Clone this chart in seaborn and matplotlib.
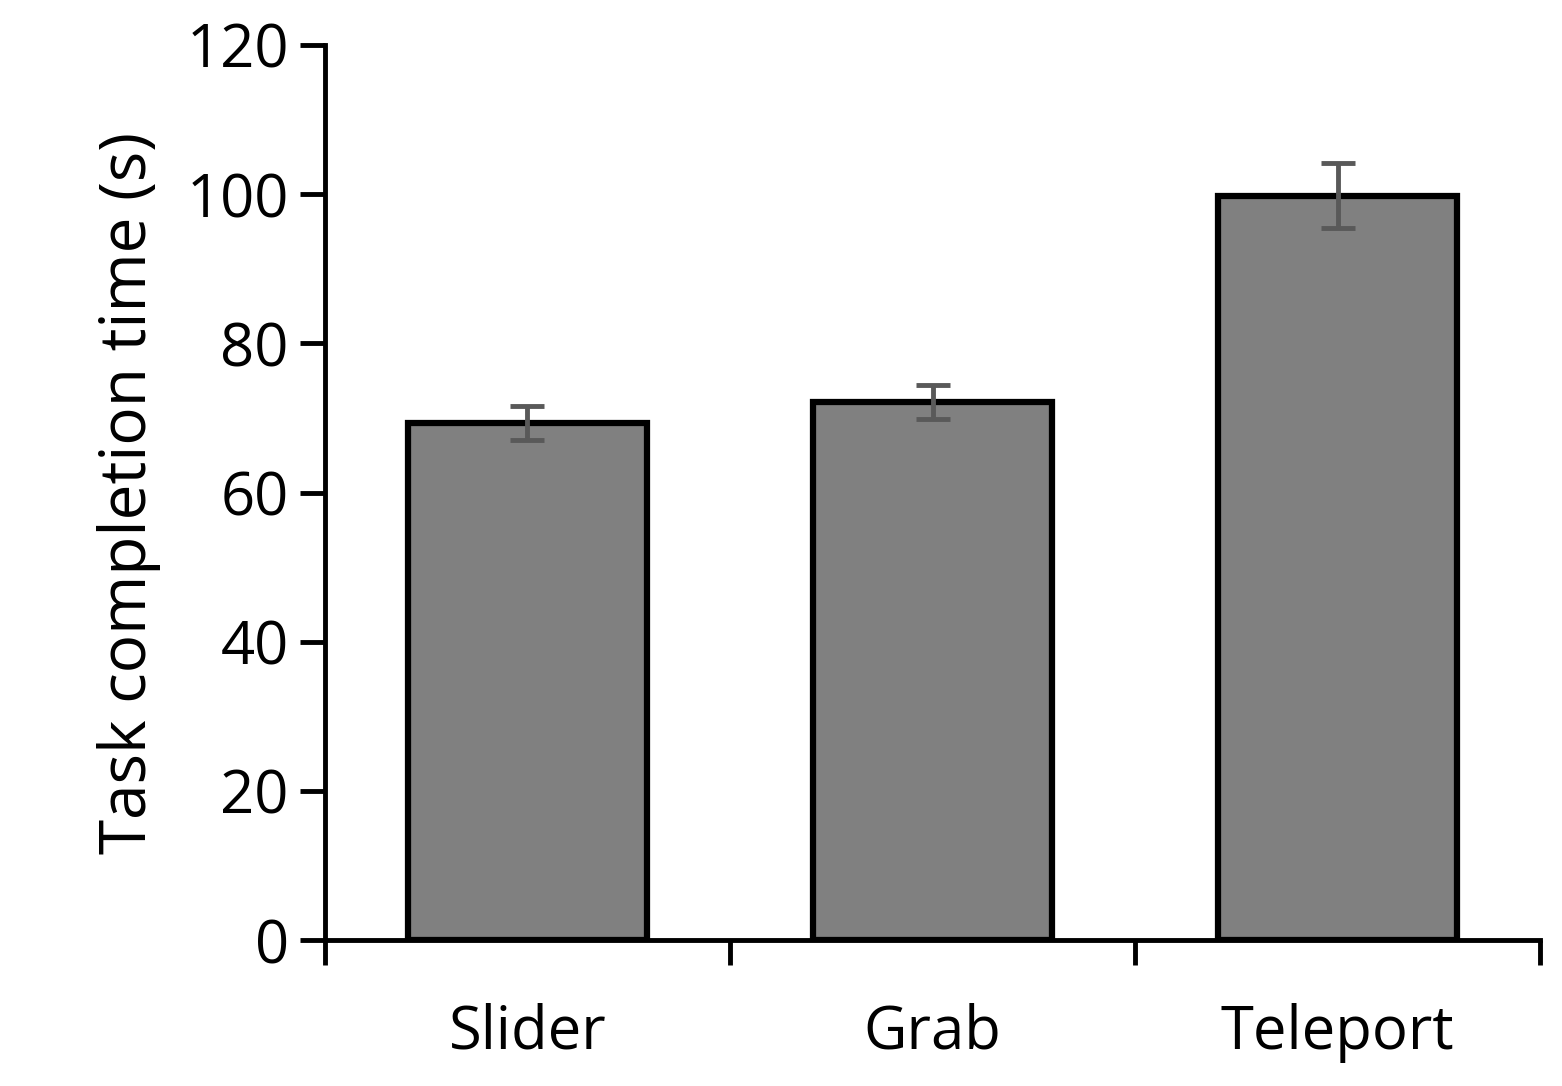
import numpy as np
import pandas as pd
import matplotlib.pyplot as plt
import seaborn as sns
from matplotlib.ticker import FixedLocator

# Data
methods = ["Slider", "Grab", "Teleport"]
times = [69.3, 72.1, 99.8]
errors = [2.3, 2.3, 4.4]

df = pd.DataFrame({"method": methods, "time": times})

sns.set_style("white")
plt.rcParams['font.family'] = ['Open Sans', 'DejaVu Sans']
plt.rcParams['text.color'] = 'black'
plt.rcParams['axes.labelcolor'] = 'black'
plt.rcParams['xtick.color'] = 'black'
plt.rcParams['ytick.color'] = 'black'

fig = plt.figure(figsize=(15.62, 10.86), dpi=100)
ax = fig.add_axes([0.208, 0.1344, 0.778, 0.8242])

sns.barplot(data=df, x="method", y="time", color="#808080", saturation=1,
            width=0.59, edgecolor="black", linewidth=4.5, ax=ax)
ax.errorbar(range(len(methods)), times, yerr=errors, fmt="none",
            ecolor="#595959", elinewidth=3.5, capsize=12, capthick=3.5)

ax.set_ylim(0, 120)
ax.set_xlim(-0.5, 2.5)
ax.set_yticks(range(0, 121, 20))
ax.set_xlabel("")
ax.set_ylabel("Task completion time (s)", fontsize=46, labelpad=18)

for s in ["top", "right"]:
    ax.spines[s].set_visible(False)
for s in ["left", "bottom"]:
    ax.spines[s].set_linewidth(3.5)
    ax.spines[s].set_color("black")

ax.tick_params(axis="y", which="major", direction="out", length=18, width=3.5,
               labelsize=43, left=True, pad=8)
ax.tick_params(axis="x", which="major", length=0, labelsize=43, pad=45)
ax.xaxis.set_minor_locator(FixedLocator([-0.5, 0.5, 1.5, 2.5]))
ax.tick_params(axis="x", which="minor", direction="out", length=18, width=3.5, bottom=True)

fig.savefig("out.png", dpi=100)
